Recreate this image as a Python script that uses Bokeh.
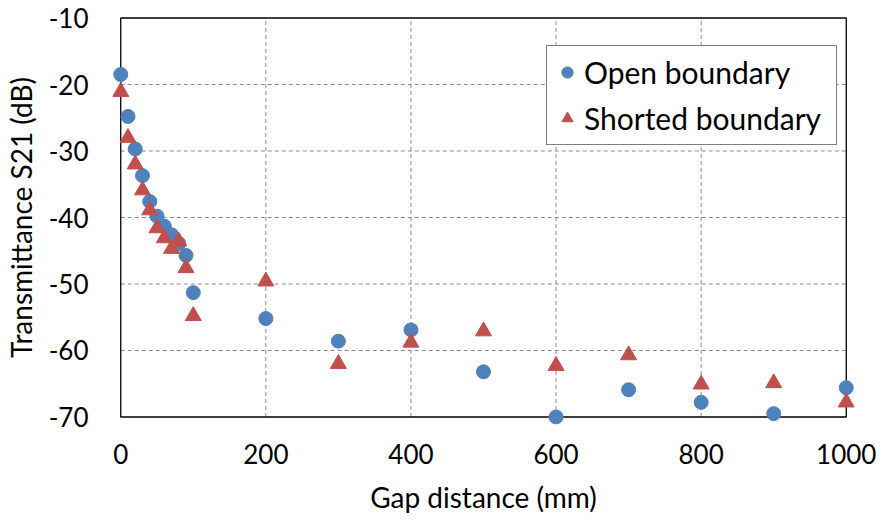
from bokeh.plotting import figure
from bokeh.models import ColumnDataSource, Range1d, FixedTicker, Legend, LegendItem
from bokeh.embed import file_html
from bokeh.resources import INLINE

# Gap distance (mm) and transmittance S21 (dB)
gap_mm = [0, 10, 20, 30, 40, 50, 60, 70, 80, 90, 100,
          200, 300, 400, 500, 600, 700, 800, 900, 1000]
s21_open = [-18.5, -24.8, -29.7, -33.7, -37.6, -39.8, -41.3, -42.6, -43.9, -45.7, -51.3,
            -55.2, -58.6, -56.9, -63.2, -70.0, -65.9, -67.8, -69.5, -65.6]
s21_shorted = [-21.1, -28.0, -32.0, -35.9, -38.9, -41.6, -43.1, -44.7, -43.6, -47.6, -54.8,
               -49.6, -62.0, -58.8, -57.1, -62.3, -60.7, -65.1, -64.9, -67.8]

x_ticks = [0, 200, 400, 600, 800, 1000]
y_ticks = [-70, -60, -50, -40, -30, -20, -10]

FONT = "Lato"
BLUE = "#4F81BD"
RED = "#C0504D"

# small padding around the axis limits so edge markers are not cut off
x_pad = 11.35
y_pad = 1.13

p = figure(width=880, height=521, output_backend="svg", toolbar_location=None,
           x_range=Range1d(x_ticks[0] - x_pad, x_ticks[-1] + x_pad),
           y_range=Range1d(y_ticks[0] - y_pad, y_ticks[-1] + y_pad),
           min_border_left=112, min_border_right=26, min_border_top=10, min_border_bottom=97)
p.outline_line_color = None
p.background_fill_color = "white"
p.border_fill_color = "white"
p.xgrid.visible = False
p.ygrid.visible = False

# dashed grid lines between the axis limits
inner_x = x_ticks[1:-1]
inner_y = y_ticks[1:-1]
p.segment(x0=inner_x, x1=inner_x, y0=[y_ticks[0]] * len(inner_x), y1=[y_ticks[-1]] * len(inner_x),
          line_color="#8c8c8c", line_width=1, line_dash="4 3")
p.segment(x0=[x_ticks[0]] * len(inner_y), x1=[x_ticks[-1]] * len(inner_y), y0=inner_y, y1=inner_y,
          line_color="#8c8c8c", line_width=1, line_dash="4 3")

# plot box
p.quad(left=[x_ticks[0]], right=[x_ticks[-1]], bottom=[y_ticks[0]], top=[y_ticks[-1]],
       fill_color=None, line_color="black", line_width=1.3)

src = ColumnDataSource(dict(x=gap_mm, open=s21_open, shorted=s21_shorted))
r_open = p.scatter("x", "open", source=src, marker="circle", size=14,
                   fill_color=BLUE, line_color=BLUE)
r_short = p.scatter("x", "shorted", source=src, marker="triangle", size=16,
                    fill_color=RED, line_color=RED)

for ax in (p.xaxis[0], p.yaxis[0]):
    ax.axis_line_color = None
    ax.major_tick_line_color = None
    ax.minor_tick_line_color = None
    ax.major_tick_out = 0
    ax.major_tick_in = 0
    ax.minor_tick_out = 0
    ax.minor_tick_in = 0
    ax.major_label_text_font = FONT
    ax.major_label_text_font_size = "26px"
    ax.major_label_text_color = "black"
    ax.axis_label_text_font = FONT
    ax.axis_label_text_font_size = "28px"
    ax.axis_label_text_font_style = "normal"
    ax.axis_label_text_color = "black"

p.xaxis.ticker = FixedTicker(ticks=x_ticks)
p.yaxis.ticker = FixedTicker(ticks=y_ticks)
# plain hyphen for negative tick labels
p.yaxis.major_label_overrides = {t: str(t) for t in y_ticks}
p.xaxis.axis_label = "Gap distance (mm)"
p.yaxis.axis_label = "Transmittance S21 (dB)"
p.xaxis.major_label_standoff = 19
p.xaxis.axis_label_standoff = 13
p.yaxis.major_label_standoff = 24
p.yaxis.axis_label_standoff = 8

legend = Legend(items=[LegendItem(label="Open boundary", renderers=[r_open]),
                       LegendItem(label="Shorted boundary", renderers=[r_short])],
                location=(434, 279), margin=0, padding=6, spacing=6,
                glyph_width=28, glyph_height=40, label_height=40, label_standoff=3,
                label_width=246,
                label_text_font=FONT, label_text_font_size="30px", label_text_color="black",
                border_line_color="black", border_line_width=1, background_fill_alpha=1)
p.add_layout(legend)

open("out.html", "w").write(file_html(p, INLINE))
